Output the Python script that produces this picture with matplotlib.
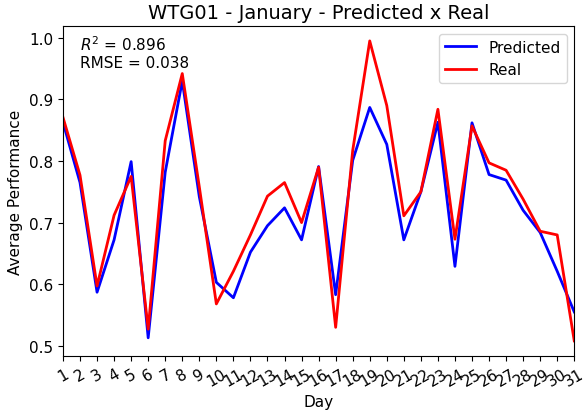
import numpy as np
import matplotlib.pyplot as plt

# Daily average performance, WTG01, January
days = list(range(1, 32))
predicted = [0.863, 0.765, 0.587, 0.672, 0.799, 0.513, 0.782, 0.930, 0.742, 0.603,
             0.578, 0.652, 0.695, 0.724, 0.672, 0.791, 0.583, 0.801, 0.887, 0.827,
             0.672, 0.750, 0.863, 0.629, 0.862, 0.778, 0.769, 0.720, 0.684, 0.621,
             0.555]
real = [0.871, 0.777, 0.597, 0.712, 0.775, 0.527, 0.833, 0.942, 0.758, 0.568,
        0.621, 0.680, 0.743, 0.765, 0.700, 0.790, 0.530, 0.817, 0.995, 0.890,
        0.711, 0.750, 0.884, 0.673, 0.857, 0.797, 0.785, 0.738, 0.686, 0.680,
        0.508]
r2 = 0.896
rmse = 0.038

fig, ax = plt.subplots(figsize=(5.83, 4.14), dpi=100)
fig.subplots_adjust(left=0.108, right=0.985, top=0.935, bottom=0.138)
ax.plot(days, predicted, color='blue', linewidth=2, label='Predicted')
ax.plot(days, real, color='red', linewidth=2, label='Real')

ax.set_xlim(1, 31)
ax.set_xticks(days)
ax.set_xticklabels([str(d) for d in days], rotation=30)
ax.tick_params(axis='both', labelsize=11)
ax.set_xlabel('Day', fontsize=11)
ax.set_ylabel('Average Performance', fontsize=11)
ax.set_title('WTG01 - January - Predicted x Real', fontsize=14)
ax.text(0.033, 0.975, f'$R^2$ = {r2:.3f}\nRMSE = {rmse:.3f}', transform=ax.transAxes,
        va='top', ha='left', fontsize=11)
ax.legend(loc='upper right', fontsize=11)

plt.savefig('out.png', dpi=100)
